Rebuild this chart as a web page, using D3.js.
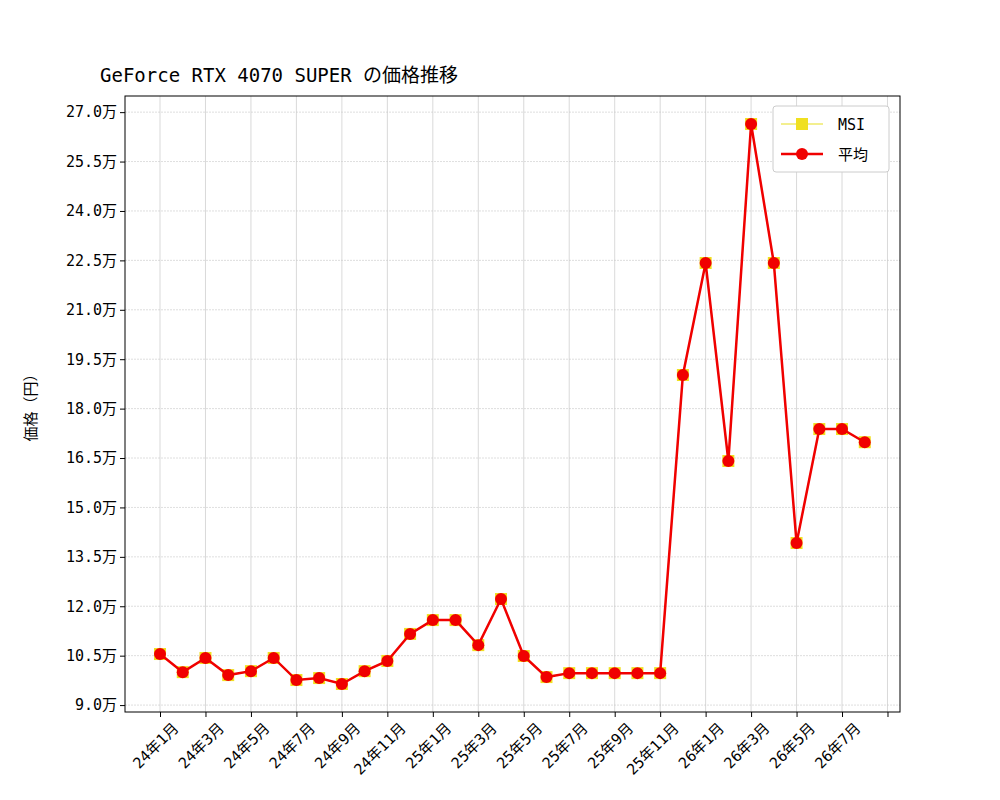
<!DOCTYPE html><html><head><meta charset="utf-8">
<script src="https://cdn.jsdelivr.net/npm/d3@7"></script>
<style>body{margin:0;background:#fff}text{font-family:"DejaVu Sans Mono","Noto Sans CJK JP",monospace}</style>
</head><body><svg id="c" width="1000" height="800"></svg>
<script>
const months=["24年1月","24年2月","24年3月","24年4月","24年5月","24年6月","24年7月","24年8月","24年9月","24年10月","24年11月","24年12月","25年1月","25年2月","25年3月","25年4月","25年5月","25年6月","25年7月","25年8月","25年9月","25年10月","25年11月","25年12月","26年1月","26年2月","26年3月","26年4月","26年5月","26年6月","26年7月","26年8月"];
const msi=[10.55,10.0,10.43,9.91,10.03,10.43,9.76,9.82,9.64,10.03,10.34,11.16,11.58,11.58,10.82,12.22,10.49,9.85,9.97,9.97,9.97,9.97,9.97,19.02,22.42,16.41,26.64,22.42,13.92,17.38,17.38,16.98];
const avg=msi.slice();
const yTicks=[9,10.5,12,13.5,15,16.5,18,19.5,21,22.5,24,25.5,27];
const svg=d3.select("#c");
const L=125,R=900,T=96,B=712;
const x=d3.scaleLinear().domain([-1.54,32.55]).range([L,R]);
const y=d3.scaleLinear().domain([8.79,27.49]).range([B,T]);
const xt=d3.range(0,33,2);
const g=svg.append("g");
g.selectAll(".gx").data(xt).join("line").attr("x1",d=>x(d)).attr("x2",d=>x(d)).attr("y1",T).attr("y2",B).attr("stroke","#cfcfcf").attr("stroke-width",0.8);
g.selectAll(".gy").data(yTicks).join("line").attr("y1",d=>y(d)).attr("y2",d=>y(d)).attr("x1",L).attr("x2",R).attr("stroke","#c8c8c8").attr("stroke-width",0.6).attr("stroke-dasharray","2,1");
const xa=svg.append("g").attr("transform",`translate(0,${B})`).call(d3.axisBottom(x).tickValues(xt).tickSize(5).tickFormat(d=>d<32?months[d]:""));
xa.selectAll("text").attr("font-size",15).attr("fill","#000").attr("text-anchor","end").attr("transform","translate(6,4) rotate(-45)").attr("dy","0.7em");
const ya=svg.append("g").attr("transform",`translate(${L},0)`).call(d3.axisLeft(y).tickValues(yTicks).tickSize(5).tickFormat(d=>d.toFixed(1)+"万"));
ya.selectAll("text").attr("font-size",15).attr("fill","#000");
svg.selectAll(".domain").remove();
svg.append("rect").attr("x",L).attr("y",T).attr("width",R-L).attr("height",B-T).attr("fill","none").attr("stroke","#000");
const line=d3.line().x((d,i)=>x(i)).y(d=>y(d));
svg.append("path").attr("d",line(msi)).attr("fill","none").attr("stroke","#e8e020").attr("stroke-width",1.2);
svg.selectAll(".sq").data(msi).join("rect").attr("x",(d,i)=>x(i)-6).attr("y",d=>y(d)-6).attr("width",12).attr("height",12).attr("fill","#f0e020");
svg.append("path").attr("d",line(avg)).attr("fill","none").attr("stroke","#f00000").attr("stroke-width",2.5);
svg.selectAll(".ci").data(avg).join("circle").attr("cx",(d,i)=>x(i)).attr("cy",d=>y(d)).attr("r",6).attr("fill","#f00000");
svg.append("text").attr("x",100).attr("y",82).attr("font-size",19).text("GeForce RTX 4070 SUPER の価格推移");
svg.append("text").attr("transform","translate(36,404) rotate(-90)").attr("text-anchor","middle").attr("font-size",15).text("価格（円）");
const lg=svg.append("g");
lg.append("rect").attr("x",773).attr("y",106).attr("width",116).attr("height",66).attr("rx",3).attr("fill","#fff").attr("stroke","#ccc");
lg.append("line").attr("x1",781).attr("x2",823).attr("y1",124).attr("y2",124).attr("stroke","#e8e020").attr("stroke-width",1.2);
lg.append("rect").attr("x",796).attr("y",118).attr("width",12).attr("height",12).attr("fill","#f0e020");
lg.append("text").attr("x",838).attr("y",130).attr("font-size",15).text("MSI");
lg.append("line").attr("x1",781).attr("x2",823).attr("y1",154).attr("y2",154).attr("stroke","#f00000").attr("stroke-width",2.5);
lg.append("circle").attr("cx",802).attr("cy",154).attr("r",6).attr("fill","#f00000");
lg.append("text").attr("x",838).attr("y",160).attr("font-size",15).text("平均");
</script></body></html>
